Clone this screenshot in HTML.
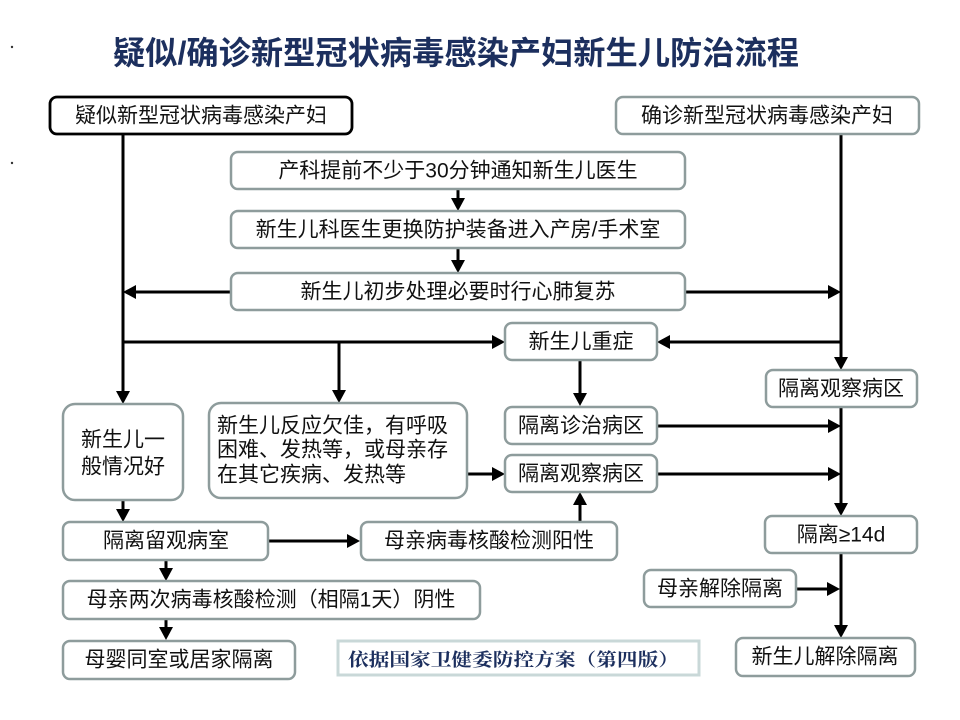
<!DOCTYPE html>
<html><head><meta charset="utf-8"><style>
html,body{margin:0;padding:0;background:#fff;}
svg{display:block;}
text{font-family:"Liberation Sans","Noto Sans CJK SC",sans-serif;fill:#111;}
.t{font-size:21px;text-anchor:middle;dominant-baseline:central;}
.tl{font-size:21px;dominant-baseline:central;}
.b{fill:#fff;stroke:#8e9c9c;stroke-width:2.5;}
.l{stroke:#000;stroke-width:3;fill:none;}
</style></head><body>
<svg width="960" height="720" viewBox="0 0 960 720" xmlns="http://www.w3.org/2000/svg">
<rect x="0" y="0" width="960" height="720" fill="#fff"/>
<circle cx="12" cy="47" r="1.2" fill="#333"/>
<circle cx="12" cy="163" r="1.2" fill="#333"/>
<text x="456" y="53" style="font-family:'Liberation Sans','Noto Sans CJK SC',sans-serif;font-size:32px;font-weight:bold;fill:#1c2f5e;text-anchor:middle;dominant-baseline:central;" textLength="686" lengthAdjust="spacingAndGlyphs">疑似/确诊新型冠状病毒感染产妇新生儿防治流程</text>

<!-- lines -->
<g class="l">
<line x1="123" y1="134" x2="123" y2="393"/>
<line x1="231" y1="292" x2="134" y2="292"/>
<line x1="123" y1="342" x2="494" y2="342"/>
<line x1="339" y1="342" x2="339" y2="392"/>
<line x1="841" y1="134" x2="841" y2="359"/>
<line x1="685" y1="292" x2="830" y2="292"/>
<line x1="841" y1="342" x2="668" y2="342"/>
<line x1="458" y1="189" x2="458" y2="200"/>
<line x1="458" y1="248" x2="458" y2="262"/>
<line x1="580" y1="360" x2="580" y2="395"/>
<line x1="657" y1="426" x2="830" y2="426"/>
<line x1="657" y1="474" x2="830" y2="474"/>
<line x1="841" y1="407" x2="841" y2="505"/>
<line x1="841" y1="553" x2="841" y2="627"/>
<line x1="796" y1="589" x2="829" y2="589"/>
<line x1="467" y1="474" x2="494" y2="474"/>
<line x1="123" y1="500" x2="123" y2="511"/>
<line x1="268" y1="541" x2="349" y2="541"/>
<line x1="580" y1="522" x2="580" y2="503"/>
<line x1="166" y1="560" x2="166" y2="570"/>
<line x1="166" y1="619" x2="166" y2="629"/>
</g>
<!-- arrowheads -->
<g fill="#000">
<polygon points="116,391 130,391 123,404"/>
<polygon points="136,285 136,299 123,292"/>
<polygon points="492,335 492,349 505,342"/>
<polygon points="332,390 346,390 339,403"/>
<polygon points="834,357 848,357 841,370"/>
<polygon points="828,285 828,299 841,292"/>
<polygon points="670,335 670,349 657,342"/>
<polygon points="451,198 465,198 458,211"/>
<polygon points="451,260 465,260 458,273"/>
<polygon points="573,393 587,393 580,406"/>
<polygon points="828,419 828,433 841,426"/>
<polygon points="828,467 828,481 841,474"/>
<polygon points="834,503 848,503 841,516"/>
<polygon points="834,625 848,625 841,638"/>
<polygon points="827,582 827,596 840,589"/>
<polygon points="492,467 492,481 505,474"/>
<polygon points="116,509 130,509 123,522"/>
<polygon points="347,534 347,548 360,541"/>
<polygon points="573,505 587,505 580,492"/>
<polygon points="159,568 173,568 166,581"/>
<polygon points="159,627 173,627 166,640"/>
</g>

<!-- boxes -->
<rect x="50" y="97" width="302" height="37" rx="7" fill="#fff" stroke="#000" stroke-width="2.8"/>
<text class="t" x="201" y="116">疑似新型冠状病毒感染产妇</text>

<rect class="b" x="616" y="97" width="303" height="37" rx="7"/>
<text class="t" x="767" y="116">确诊新型冠状病毒感染产妇</text>

<rect class="b" x="231" y="152" width="454" height="37" rx="7"/>
<text class="t" x="458" y="171">产科提前不少于30分钟通知新生儿医生</text>

<rect class="b" x="231" y="211" width="454" height="37" rx="7"/>
<text class="t" x="458" y="230">新生儿科医生更换防护装备进入产房/手术室</text>

<rect class="b" x="231" y="273" width="454" height="37" rx="7"/>
<text class="t" x="458" y="292">新生儿初步处理必要时行心肺复苏</text>

<rect class="b" x="505" y="323" width="152" height="37" rx="7"/>
<text class="t" x="581" y="342">新生儿重症</text>

<rect class="b" x="766" y="370" width="151" height="37" rx="7"/>
<text class="t" x="841" y="389">隔离观察病区</text>

<rect class="b" x="505" y="407" width="152" height="37" rx="7"/>
<text class="t" x="581" y="426">隔离诊治病区</text>

<rect class="b" x="505" y="455" width="152" height="37" rx="7"/>
<text class="t" x="581" y="474">隔离观察病区</text>

<rect class="b" x="63" y="404" width="120" height="96" rx="12"/>
<text class="t" x="123" y="440">新生儿一</text>
<text class="t" x="123" y="467">般情况好</text>

<rect class="b" x="209" y="403" width="258" height="95" rx="12"/>
<text class="tl" x="217" y="426">新生儿反应欠佳，有呼吸</text>
<text class="tl" x="217" y="450">困难、发热等，或母亲存</text>
<text class="tl" x="217" y="475">在其它疾病、发热等</text>

<rect class="b" x="63" y="522" width="205" height="38" rx="7"/>
<text class="t" x="166" y="541">隔离留观病室</text>

<rect class="b" x="361" y="522" width="256" height="38" rx="7"/>
<text class="t" x="489" y="541">母亲病毒核酸检测阳性</text>

<rect class="b" x="765" y="516" width="152" height="37" rx="7"/>
<text class="t" x="841" y="535">隔离≥14d</text>

<rect class="b" x="63" y="581" width="417" height="38" rx="7"/>
<text class="t" x="271" y="600">母亲两次病毒核酸检测（相隔1天）阴性</text>

<rect class="b" x="644" y="570" width="152" height="37" rx="7"/>
<text class="t" x="720" y="589">母亲解除隔离</text>

<rect class="b" x="63" y="641" width="232" height="38" rx="7"/>
<text class="t" x="179" y="660">母婴同室或居家隔离</text>

<rect class="b" x="736" y="638" width="179" height="38" rx="7"/>
<text class="t" x="825" y="657">新生儿解除隔离</text>

<rect x="338" y="641" width="361" height="34" fill="#fff" stroke="#c9d8d8" stroke-width="3"/>
<text x="348" y="659" style="font-family:'Noto Serif CJK SC','Liberation Serif',serif;font-size:18px;font-weight:bold;fill:#1c2f5e;dominant-baseline:central;" textLength="331" lengthAdjust="spacingAndGlyphs">依据国家卫健委防控方案（第四版）</text>
</svg>
</body></html>
